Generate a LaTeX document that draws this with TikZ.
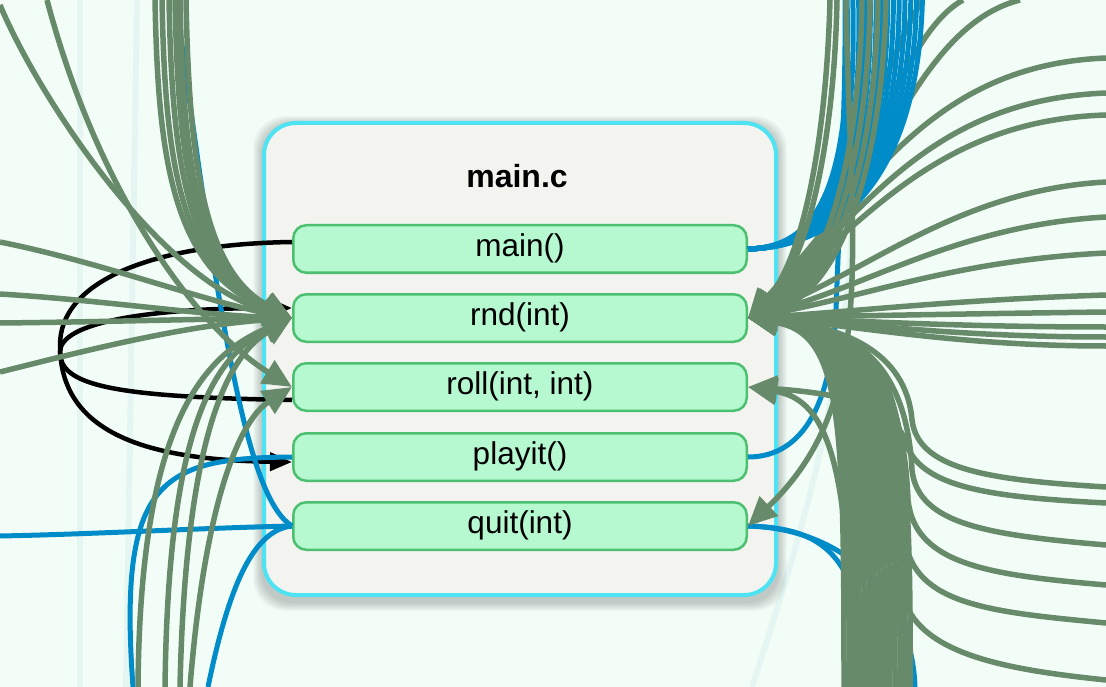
\documentclass[tikz,border=0pt]{standalone}
\usepackage{fontspec}
\setmainfont{Liberation Sans}
\usetikzlibrary{arrows.meta,calc}
\definecolor{bgc}{HTML}{F3FDF8}
\definecolor{faintc}{HTML}{E4F5F2}
\definecolor{greenedge}{HTML}{678A6A}
\definecolor{blueedge}{HTML}{008CC8}
\definecolor{fnfill}{HTML}{B6F8D0}
\definecolor{fnline}{HTML}{4CC070}
\definecolor{contfill}{HTML}{F3F3F0}
\definecolor{contline}{HTML}{4DE3F3}
\begin{document}
\begin{tikzpicture}[x=1pt,y=-1pt,
  fnbox/.style={draw=fnline, line width=2.5pt, fill=fnfill, rounded corners=13pt, minimum width=453.5pt, minimum height=47.5pt, inner sep=0pt, text height=22pt, text depth=6.5pt, font=\fontsize{31.5}{36}\selectfont},
  container/.style={draw=contline, line width=4pt, fill=contfill, rounded corners=32pt, minimum width=512pt, minimum height=472pt, inner sep=0pt},
  greenarrow/.style={draw=greenedge, line width=5.5pt, -{Triangle[length=29pt,width=26pt]}},
  bluewire/.style={draw=blueedge, line width=5pt},
  blackwire/.style={draw=black, line width=4.5pt},
  blackarrow/.style={blackwire, -{Triangle[length=22pt,width=18pt]}},
  faintwire/.style={draw=faintc, line width=6pt},
]
\fill[bgc] (0,0) rectangle (1106,687);
\useasboundingbox (0,0) rectangle (1106,687);
% faint background traces
\draw[faintwire] (80,0) -- (80,687);
\draw[faintwire] (137,0) -- (126,687);
\draw[faintwire] (752,687) .. controls (820,480) and (852,350) .. (855,150);
% shadow
\foreach \i in {1,...,9} {
  \fill[black, opacity=0.024, rounded corners=32pt] (262-\i,125-\i) rectangle (778+\i,602+\i);
}
% container and functions
\node[container] (box) at (520,359) {};
\node[font=\bfseries\fontsize{32}{38}\selectfont] (title) at (517,176) {main.c};
\node[fnbox] (main) at (520,249) {main()};
\node[fnbox] (rnd) at (520,318) {rnd(int)};
\node[fnbox] (roll) at (520,387) {roll(int, int)};
\node[fnbox] (playit) at (520,457) {playit()};
\node[fnbox] (quit) at (520,526) {quit(int)};

% ---------- black calls ----------
\draw[blackarrow] ($(main.west)+(0,-7)$) .. controls (150,244) and (60,282) .. (60,345) .. controls (60,430) and (140,460) .. ($(playit.west)+(0,5)$);
\draw[blackarrow] ($(roll.west)+(0,13)$) .. controls (110,397) and (60,385) .. (60,352) .. controls (60,322) and (150,308) .. ($(rnd.west)+(0,-10)$);

% ---------- blue wires (left and lower right) ----------
\coordinate (blt) at (176,0);
\draw[bluewire] (blt) .. controls (222,350) and (250,500) .. (quit.west);
\coordinate (bll) at (0,536);
\draw[bluewire] (bll) .. controls (100,534) and (200,528) .. (quit.west);
\coordinate (blb1) at (133,687);
\draw[bluewire] (blb1) .. controls (118,480) and (160,458) .. (playit.west);
\coordinate (blb2) at (208,687);
\draw[bluewire] (blb2) .. controls (230,580) and (255,530) .. (quit.west);
\coordinate (bp) at (845,0);
\draw[bluewire] (playit.east) .. controls (805,457) and (832,400) .. (836,310) .. controls (840,200) and (846,100) .. (bp);
\coordinate (bq1) at (915,687);
\draw[bluewire] (quit.east) .. controls (850,529) and (912,600) .. (bq1);
\coordinate (bq2) at (868,687);
\draw[bluewire] (quit.east) .. controls (830,528) and (862,560) .. (bq2);

% ---------- green calls, left ----------
\foreach \n/\y/\ax/\ay/\bx/\by in {1/242/100/262/200/300, 2/294/100/300/200/315, 3/323/100/322/200/319, 4/372/80/352/180/326} {
  \coordinate (gl\n) at (0,\y);
  \draw[greenarrow] (gl\n) .. controls (\ax,\ay) and (\bx,\by) .. (rnd.west);
}
\coordinate (gt0) at (0,5);
\draw[greenarrow] (gt0) .. controls (40,100) and (160,280) .. (rnd.west);
\coordinate (gt1) at (47,0);
\draw[greenarrow] (gt1) .. controls (100,200) and (200,330) .. (roll.west);
\foreach \k/\x in {2/155,3/162,4/169,5/175,6/180,7/186} {
  \coordinate (gt\k) at (\x,0);
  \draw[greenarrow] (gt\k) .. controls (\x+3,150) and (\x+15,270) .. (rnd.west);
}
\coordinate (gb1) at (138,687);
\draw[greenarrow] (gb1) .. controls (140,450) and (190,360) .. (rnd.west);
\coordinate (gb2) at (165,687);
\draw[greenarrow] (gb2) .. controls (168,450) and (205,360) .. (rnd.west);
\coordinate (gb3) at (180,687);
\draw[greenarrow] (gb3) .. controls (185,460) and (220,360) .. (rnd.west);
\coordinate (gb4) at (190,687);
\draw[greenarrow] (gb4) .. controls (205,500) and (240,420) .. (roll.west);

% ---------- green calls, right ----------
% from the top right and the right edge, upper half
\foreach \k/\x/\ax/\ay/\bx/\by in {7/923/880/60/850/230, 8/963/890/40/855/240, 9/1020/900/30/860/250} {
  \coordinate (gr\k) at (\x,0);
  \draw[greenarrow] (gr\k) .. controls (\ax,\ay) and (\bx,\by) .. (rnd.east);
}
\foreach \k/\y/\ax/\ay/\bx/\by in {1/58/930/65/865/190, 2/93/930/100/865/210, 3/115/940/120/865/220, 4/182/960/190/870/270, 5/217/960/225/870/285, 6/253/960/260/870/295, 7/295/950/300/850/312, 8/312/950/314/850/316, 9/327/950/327/850/320, 10/337/950/337/850/322, 11/346/950/346/850/324} {
  \coordinate (ge\k) at (1106,\y);
  \draw[greenarrow] (ge\k) .. controls (\ax,\ay) and (\bx,\by) .. (rnd.east);
}
% blue fan from main() to the top
\foreach \k in {0,...,13} {
  \pgfmathsetmacro\xt{847+5.8*\k}
  \pgfmathsetmacro\ax{812+2.6*\k}
  \pgfmathsetmacro\bx{853+5*\k}
  \pgfmathsetmacro\by{198-2.2*\k}
  \coordinate (bm\k) at (\xt,0);
  \draw[bluewire] (main.east) .. controls (\ax,247) and (\bx,\by) .. (bm\k);
}
% straight down from the top
\foreach \k/\x/\ax/\ay/\bx/\by in {1/830/826/150/800/265, 2/837/834/150/805/268, 3/862/860/160/825/280, 4/870/868/160/830/285, 5/878/876/160/835/290, 6/886/882/170/840/292} {
  \coordinate (gr\k) at (\x,0);
  \draw[greenarrow] (gr\k) .. controls (\ax,\ay) and (\bx,\by) .. (rnd.east);
}
% trunk from the bottom
\foreach \i in {0,...,13} {
  \pgfmathsetmacro\b{844+5.1*\i}
  \pgfmathsetmacro\p{420-3*\i}
  \pgfmathsetmacro\q{842+4.5*\i}
  \coordinate (tb\i) at (\b,687);
  \draw[greenarrow] (tb\i) .. controls (\b,\p) and (\q,333) .. (rnd.east);
}
% from the right edge, lower half, up the trunk
\foreach \k/\y/\ax/\ay/\bx/\by/\mx/\my in {1/487/990/480/918/470/912/420, 2/545/990/535/918/525/912/470, 3/585/990/575/915/565/908/500, 4/623/990/612/915/605/905/540, 5/680/990/668/905/650/900/580} {
  \coordinate (gd\k) at (1106,\y);
  \draw[greenarrow] (gd\k) .. controls (\ax,\ay) and (\bx,\by) .. (\mx,\my) .. controls (\mx-6,350) and (840,326) .. (rnd.east);
}
% to roll
\coordinate (gro1) at (852,687);
\draw[greenarrow] (gro1) .. controls (850,470) and (830,400) .. (roll.east);
\coordinate (gro2) at (1106,503);
\draw[greenarrow] (gro2) .. controls (990,497) and (918,488) .. (905,440) .. controls (890,400) and (820,392) .. (roll.east);
% to quit
\coordinate (gq) at (846,0);
\draw[greenarrow] (gq) .. controls (850,250) and (880,400) .. (quit.east);
\end{tikzpicture}
\end{document}
